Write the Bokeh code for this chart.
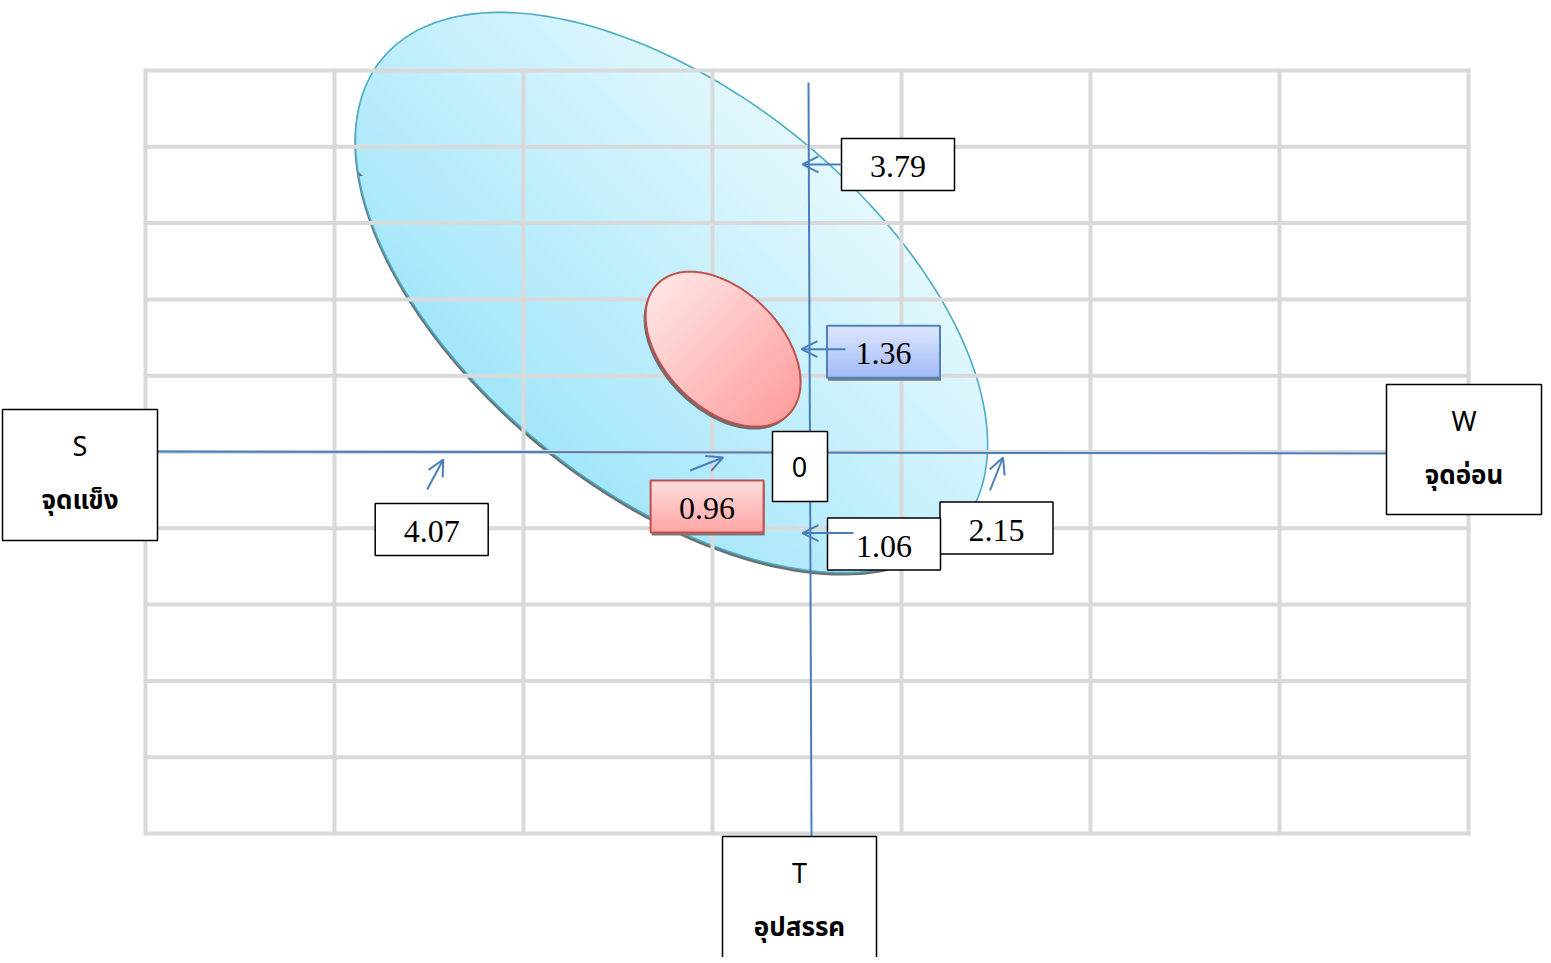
import numpy as np
from bokeh.plotting import figure
from bokeh.models import Range1d, Arrow, OpenHead, ColumnDataSource
from bokeh.core.properties import value
from bokeh.embed import file_html
from bokeh.resources import INLINE

# ---------------- data ----------------
dims = ["S", "W", "O", "T"]
dim_names = ["จุดแข็ง", "จุดอ่อน", "โอกาส", "อุปสรรค"]
dim_scores = [4.07, 2.15, 3.79, 1.06]
boxed_dims = ["S", "W", "T"]            # dimensions that carry a name box
strategy_axes = ["x", "y"]
strategy_values = [-0.96, 1.36]         # position of the strategy point
origin_label = "0"

# ---------------- layout / scale ----------------
W, H = 1545, 957
X0, Y0 = 809, 452          # origin in page pixels
SX, SY = 90, 76            # pixels per unit
def px(v): return X0 + v * SX
def py(v): return Y0 - v * SY

DIR = {"S": (-1, 0), "W": (1, 0), "O": (0, 1), "T": (0, -1)}
NAME_BOX = {"S": (2, 157, 409, 540), "W": (1386, 1541, 384, 514), "T": (722, 876, 836, 990)}
BOX_W, BOX_H = 113, 52

p = figure(width=W, height=H, output_backend="svg", toolbar_location=None,
           x_axis_type=None, y_axis_type=None, min_border=0,
           x_range=Range1d(0, W), y_range=Range1d(H, 0))
p.outline_line_color = None
p.background_fill_color = "white"
p.border_fill_color = "white"

def hex2rgb(h):
    h = h.lstrip("#")
    return tuple(int(h[i:i + 2], 16) for i in (0, 2, 4))

def mix(c0, c1, t):
    a, b = hex2rgb(c0), hex2rgb(c1)
    return "#%02x%02x%02x" % tuple(int(round(a[i] + (b[i] - a[i]) * t)) for i in range(3))

def ellipse_poly(cx, cy, a, b, deg, n=240):
    t = np.linspace(0, 2 * np.pi, n, endpoint=False)
    th = np.radians(deg)
    x = cx + a * np.cos(t) * np.cos(th) - b * np.sin(t) * np.sin(th)
    y = cy + a * np.cos(t) * np.sin(th) + b * np.sin(t) * np.cos(th)
    return list(zip(x, y))

def clip(poly, nx, ny, c):
    out = []
    n = len(poly)
    for i in range(n):
        P, Q = poly[i], poly[(i + 1) % n]
        dp = nx * P[0] + ny * P[1] - c
        dq = nx * Q[0] + ny * Q[1] - c
        if dp >= 0:
            out.append(P)
        if (dp >= 0) != (dq >= 0):
            s = dp / (dp - dq)
            out.append((P[0] + s * (Q[0] - P[0]), P[1] + s * (Q[1] - P[1])))
    return out

def gradient_fill(poly, d, c0, c1, n=48):
    dx, dy = d
    nrm = (dx * dx + dy * dy) ** 0.5
    dx, dy = dx / nrm, dy / nrm
    proj = [dx * x + dy * y for x, y in poly]
    lo, hi = min(proj), max(proj)
    xs, ys, cols = [], [], []
    for i in range(n):
        t0 = lo + (hi - lo) * i / n - 0.6
        t1 = lo + (hi - lo) * (i + 1) / n + 0.6
        q = clip(poly, dx, dy, t0)
        if len(q) < 3:
            continue
        q = clip(q, -dx, -dy, -t1)
        if len(q) < 3:
            continue
        xs.append([pt[0] for pt in q])
        ys.append([pt[1] for pt in q])
        cols.append(mix(c0, c1, (i + 0.5) / n))
    p.patches(xs, ys, fill_color=cols, line_color=None)

def outline(poly, color, width):
    xs = [pt[0] for pt in poly] + [poly[0][0]]
    ys = [pt[1] for pt in poly] + [poly[0][1]]
    p.line(xs, ys, line_color=color, line_width=width)

def rect_poly(l, r, t, b):
    return [(l, t), (r, t), (r, b), (l, b)]

# ---------------- blue zone ellipse ----------------
blue = ellipse_poly(671, 292, 372, 200, 38.7)
shadow = [(x - 1, y + 3) for x, y in blue]
p.patch([q[0] for q in shadow], [q[1] for q in shadow], fill_color="#6e6e6e", line_color=None)
gradient_fill(blue, (-1, 1), "#e4f8fe", "#a2e6fa")
outline(blue, "#4bacc6", 1.6)

# ---------------- background grid ----------------
gx = [145 + 189 * i for i in range(8)]
gy = [70 + 76.3 * j for j in range(11)]
p.segment(x0=gx, y0=[68] * len(gx), x1=gx, y1=[835] * len(gx), line_color="#d9d9d9", line_width=4)
p.segment(x0=[143] * len(gy), y0=gy, x1=[1470] * len(gy), y1=gy, line_color="#d9d9d9", line_width=4)

# ---------------- axes lines ----------------
AX = "#4a7ebb"
p.line([NAME_BOX["S"][1], NAME_BOX["W"][0]], [Y0 - 1, Y0 + 1], line_color=AX, line_width=2)
p.line([X0 - 1, X0 + 2], [82, NAME_BOX["T"][2]], line_color=AX, line_width=2)

# ---------------- strategy ellipse (red) ----------------
scx, scy = px(strategy_values[0]), py(strategy_values[1])
red = ellipse_poly(scx, scy, 92.5, 58.7, 45)
rshadow = [(x - 2, y + 3) for x, y in red]
p.patch([q[0] for q in rshadow], [q[1] for q in rshadow], fill_color="#6e6e6e", line_color=None)
gradient_fill(red, (1, 1), "#ffe4e4", "#ff9f9f")
outline(red, "#c0504d", 2)

# ---------------- name boxes ----------------
sans = value("Noto Sans")
thai = value("Noto Sans Thai, Noto Sans, Leelawadee UI")
for code in boxed_dims:
    l, r, t, b = NAME_BOX[code]
    p.quad(left=l, right=r, top=t, bottom=b, fill_color="white", line_color="black", line_width=1.5)
    name = dim_names[dims.index(code)]
    cx = (l + r) / 2
    p.text(x=[cx], y=[t + 36], text=[code], text_font=sans, text_font_size="27px",
           text_align="center", text_baseline="middle", text_color="black")
    p.text(x=[cx], y=[t + 91], text=[name], text_font=thai, text_font_size="26px",
           text_font_style="bold", text_align="center", text_baseline="middle", text_color="black")

# origin box
p.quad(left=772, right=827, top=431, bottom=501, fill_color="white", line_color="black", line_width=1.5)
p.text(x=[X0 - 10], y=[466], text=[origin_label], text_font=sans, text_font_size="27px",
       text_align="center", text_baseline="middle", text_color="black")

# ---------------- callouts ----------------
# (label, tip, tail offset, box centre offset, style)
callouts = []
for code in ["O", "S", "W", "T"]:
    i = dims.index(code)
    dx, dy = DIR[code]
    v = dim_scores[i]
    if dy == 0:
        tip = (px(dx * v), Y0 + (7 if dx < 0 else 5))
        tail = (-16, 30) if dx < 0 else (-13, 33)
        cen = (-11.5, 70) if dx < 0 else (-6.5, 70.5)
    else:
        tip = (X0 - 7, py(dy * v))
        tail = (39, 0) if dy > 0 else (51, 0)
        cen = (95.5, 0) if dy > 0 else (81.5, 11)
    callouts.append(("%.2f" % v, tip, tail, cen, "plain"))

callouts.insert(1, ("%.2f" % abs(strategy_values[1]), (X0 - 8, py(strategy_values[1])), (44, 0), (82, 2.5), "blue"))
callouts.insert(2, ("%.2f" % abs(strategy_values[0]), (px(strategy_values[0]), Y0 + 5), (-33, 13), (-16, 49), "red"))

STYLES = {
    "plain": ("white", "white", "black", 1.5, False),
    "blue": ("#dfe7fd", "#a2bbf8", "#4f81bd", 2, True),
    "red": ("#ffdfdf", "#ffa5a5", "#c0504d", 2, True),
}
serif = value("Liberation Serif")
arrow_src = dict(x0=[], y0=[], x1=[], y1=[])
for label, tip, tail, cen, style in callouts:
    c0, c1, lc, lw, shad = STYLES[style]
    cx, cy = tip[0] + cen[0], tip[1] + cen[1]
    l, r = cx - BOX_W / 2, cx + BOX_W / 2
    t, b = cy - BOX_H / 2, cy + BOX_H / 2
    if shad:
        p.quad(left=l + 1, right=r + 1, top=t + 3, bottom=b + 3, fill_color="#7a7a7a", line_color=None)
    if c0 == c1:
        p.quad(left=l, right=r, top=t, bottom=b, fill_color=c0, line_color=None)
    else:
        gradient_fill(rect_poly(l, r, t, b), (0, 1), c0, c1, n=26)
    p.quad(left=l, right=r, top=t, bottom=b, fill_color=None, line_color=lc, line_width=lw)
    p.text(x=[cx], y=[cy + 2], text=[label], text_font=serif, text_font_size="32px",
           text_align="center", text_baseline="middle", text_color="black")
    arrow_src["x0"].append(tip[0] + tail[0])
    arrow_src["y0"].append(tip[1] + tail[1])
    arrow_src["x1"].append(tip[0])
    arrow_src["y1"].append(tip[1])

p.add_layout(Arrow(end=OpenHead(size=16, line_color=AX, line_width=2),
                   x_start="x0", y_start="y0", x_end="x1", y_end="y1",
                   line_color=AX, line_width=2, source=ColumnDataSource(arrow_src)))

open("out.html", "w").write(file_html(p, INLINE))
